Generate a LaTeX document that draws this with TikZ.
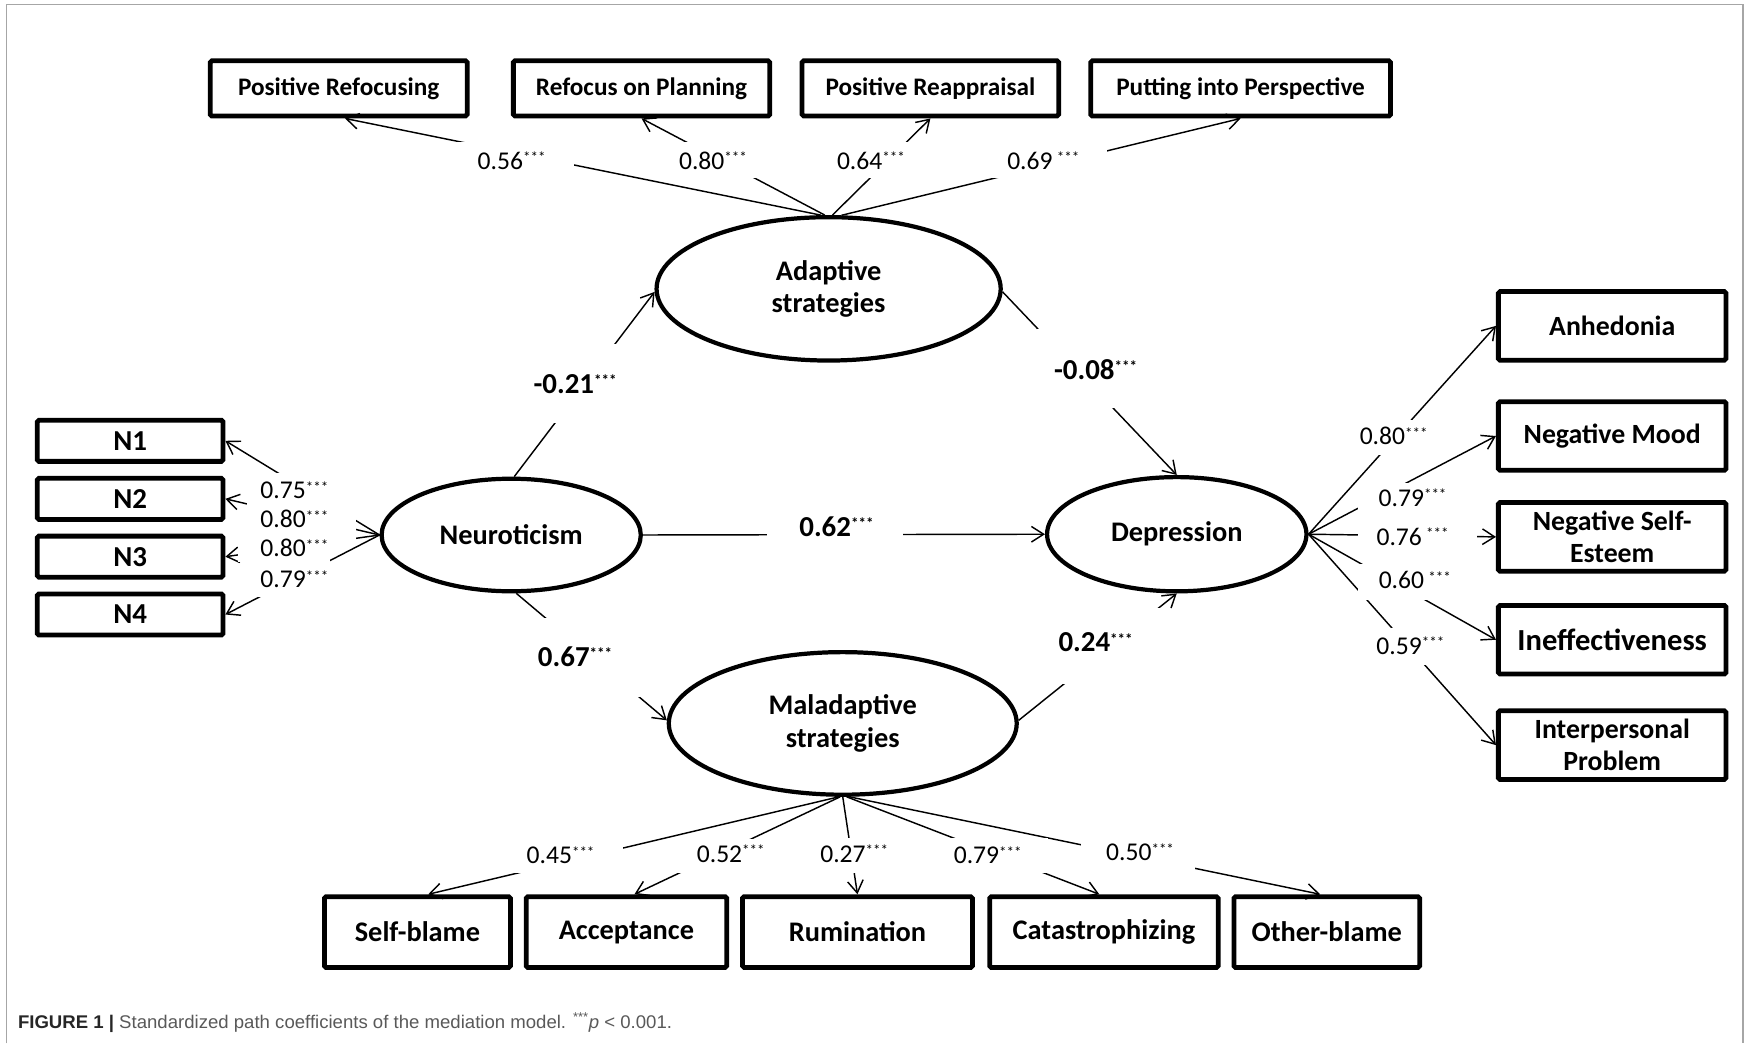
\documentclass[tikz,border=0pt]{standalone}
\usepackage{fontspec}
\usepackage{graphicx}
\setmainfont{Carlito}
\newfontfamily\capfont{Liberation Sans}
\usetikzlibrary{arrows.meta,shapes.geometric,calc}
\newcommand{\sig}{\raisebox{5.5pt}{\fontsize{13.5}{13.5}\selectfont ***}}
\newcommand{\bsig}{\raisebox{7pt}{\fontsize{13.5}{13.5}\selectfont\bfseries ***}}
\tikzset{
  ind/.style={draw, line width=4.3pt, rounded corners=1.5pt, inner sep=0pt, align=center,
    font=\bfseries\fontsize{25}{29}\selectfont},
  topind/.style={ind, minimum height=49.7pt, font=\bfseries\fontsize{22.7}{26}\selectfont},
  nind/.style={ind, minimum width=167pt, minimum height=37pt, font=\bfseries\fontsize{26}{29}\selectfont},
  rind/.style={ind, minimum width=204.7pt, minimum height=61.7pt, font=\bfseries\fontsize{25}{28.5}\selectfont},
  bind/.style={ind, minimum height=63.7pt, font=\bfseries\fontsize{25.5}{29}\selectfont},
  lat/.style={draw, ellipse, line width=3.8pt, inner sep=0pt, align=center,
    font=\bfseries\fontsize{25.5}{29}\selectfont},
  conn/.style={line width=1.3pt, -{Straight Barb[length=11pt,width=14pt]}},
  mask/.style={fill=white, draw=none, inner sep=0pt},
  lbl/.style={inner sep=0pt, anchor=base, font=\fontsize{23}{23}\selectfont},
  nlbl/.style={lbl, anchor=base west},
  blbl/.style={inner sep=0pt, anchor=base, font=\bfseries\fontsize{26}{26}\selectfont},
}
\begin{document}
\begin{tikzpicture}[x=1pt,y=-1pt]
\fill[white] (0,0) rectangle (1568,938);
\useasboundingbox (0,0) rectangle (1568,938);
\draw[black!35, line width=1.3pt] (6,938) -- (6,4) -- (1567,4) -- (1567,938);

% latent variables
\node[lat, minimum width=309.4pt, minimum height=128.9pt] (adapt) at (745,259.7) {Adaptive\\strategies};
\node[lat, minimum width=233pt, minimum height=101.2pt] (neuro) at (459.6,481) {Neuroticism};
\node[lat, minimum width=233.2pt, minimum height=102.7pt] (dep) at (1058,480.3) {Depression};
\node[lat, minimum width=312.8pt, minimum height=128.2pt] (mal) at (757.7,650.4) {Maladaptive\\strategies};

% top indicators
\node[topind, minimum width=231pt] (pr) at (304.5,79.5) {Positive Refocusing};
\node[topind, minimum width=230.5pt] (rp) at (576.8,79.5) {Refocus on Planning};
\node[topind, minimum width=230.7pt] (pra) at (836.5,79.5) {Positive Reappraisal};
\node[topind, minimum width=269.5pt] (pip) at (1115.4,79.5) {Putting into Perspective};

% neuroticism indicators
\node[nind] (n1) at (117,396.3) {N1};
\node[nind] (n2) at (117,448.5) {N2};
\node[nind] (n3) at (117,500.5) {N3};
\node[nind] (n4) at (117,552.5) {N4};

% depression indicators
\node[rind] (anh) at (1449.5,293) {Anhedonia};
\node[rind] (nm) at (1449.5,392) {Negative Mood};
\node[rind] (nse) at (1449.5,482.7) {Negative Self-\\Esteem};
\node[rind, font=\bfseries\fontsize{27.5}{30}\selectfont] (ine) at (1449.5,575.2) {Ineffectiveness};
\node[rind] (ip) at (1449.5,669.9) {Interpersonal\\Problem};

% maladaptive indicators
\node[bind, minimum width=167.2pt] (sb) at (375.3,838) {Self-blame};
\node[bind, minimum width=180.3pt] (acc) at (563.2,838) {Acceptance};
\node[bind, minimum width=206.7pt] (rum) at (770.9,838) {Rumination};
\node[bind, minimum width=205.4pt] (cat) at (992.5,838) {Catastrophizing};
\node[bind, minimum width=167pt] (ob) at (1192.9,838) {Other-blame};

% connectors
\draw[conn] (adapt.96) -- (pr.-78);
\draw[conn] (adapt.93) -- (rp.south);
\draw[conn] (adapt.87) -- (pra.south);
\draw[conn] (adapt.80) -- (pip.south);

\draw[conn] (neuro.west) -- (n1.east);
\draw[conn] (neuro.west) -- (n2.east);
\draw[conn] (neuro.west) -- (n3.east);
\draw[conn] (neuro.west) -- (n4.east);

\draw[conn] (neuro.87) -- (adapt.181);
\draw[conn] (adapt.-1) -- (dep.north);
\draw[conn] (neuro.east) -- (dep.west);
\draw[conn] (neuro.-85) -- (mal.179);
\draw[conn] (mal.1) -- (dep.south);

\draw[conn] (dep.east) -- (anh.west);
\draw[conn] (dep.east) -- (nm.west);
\draw[conn] (dep.east) -- (nse.west);
\draw[conn] (dep.east) -- (ine.west);
\draw[conn] (dep.east) -- (ip.west);

\draw[conn] (mal.-93) -- (sb.74);
\draw[conn] (mal.-92) -- (acc.78);
\draw[conn] (mal.-90) -- (rum.north);
\draw[conn] (mal.-87) -- (cat.97);
\draw[conn] (mal.-85) -- (ob.100);

% label boxes (white)
\node[mask, minimum width=106pt, minimum height=32pt] (m56) at (463,144) {};
\node[mask, minimum width=85pt, minimum height=32pt] (m80a) at (647.5,144) {};
\node[mask, minimum width=75pt, minimum height=32pt] (m64) at (787,144) {};
\node[mask, minimum width=105pt, minimum height=32pt] (m69) at (942.5,144) {};
\node[mask, minimum width=85pt, minimum height=71pt] (m21) at (522,345) {};
\node[mask, minimum width=96pt, minimum height=71pt] (m08) at (980,331.5) {};
\node[mask, minimum width=122pt, minimum height=40pt] (m62) at (751,481) {};
\node[mask, minimum width=95pt, minimum height=71pt] (m67) at (532.5,591.5) {};
\node[mask, minimum width=102pt, minimum height=68pt] (m24) at (996,581) {};
\node[mask, minimum width=70pt, minimum height=31pt] (m80b) at (1255,393.5) {};
\node[mask, minimum width=99pt, minimum height=28pt] (m79a) at (1270.5,448) {};
\node[mask, minimum width=107pt, minimum height=30pt] (m76) at (1274.5,482) {};
\node[mask, minimum width=104pt, minimum height=32pt] (m60) at (1273,523) {};
\node[mask, minimum width=70pt, minimum height=33pt] (m59) at (1270,581.5) {};
\node[mask, minimum width=100pt, minimum height=32pt] (m45) at (510,769) {};
\node[mask, minimum width=82pt, minimum height=31pt] (m52) at (644,769.5) {};
\node[mask, minimum width=70pt, minimum height=32pt] (m27) at (767,769) {};
\node[mask, minimum width=92pt, minimum height=32pt] (m79b) at (896,769) {};
\node[mask, minimum width=102pt, minimum height=32pt] (m50) at (1023,769) {};
\node[mask, minimum width=98pt, minimum height=30pt] (r1) at (271,440) {};
\node[mask, minimum width=106pt, minimum height=24pt] (r2) at (267,467) {};
\node[mask, minimum width=106pt, minimum height=10pt] (r3a) at (267,484) {};
\node[mask, minimum width=83pt, minimum height=16pt] (r3b) at (255.5,497) {};
\node[mask, minimum width=65pt, minimum height=32pt] (r4) at (264.5,521) {};

% coefficient texts
\node[lbl] (t56) at (460,152) {0.56\sig};
\node[lbl] (t80a) at (641,152) {0.80\sig};
\node[lbl] (t64) at (783,152) {0.64\sig};
\node[lbl] (t69) at (938,152) {0.69\,\sig};
\node[nlbl] (tn1) at (234,448) {0.75\sig};
\node[nlbl] (tn2) at (234,474) {0.80\sig};
\node[nlbl] (tn3) at (234,500) {0.80\sig};
\node[nlbl] (tn4) at (234,528) {0.79\sig};
\node[lbl] (t80b) at (1253,400) {0.80\sig};
\node[lbl] (t79a) at (1270,455) {0.79\sig};
\node[lbl] (t76) at (1270,490) {0.76\,\sig};
\node[lbl] (t60) at (1272,529) {0.60\,\sig};
\node[lbl] (t59) at (1268,588) {0.59\sig};
\node[lbl] (t45) at (504,776) {0.45\sig};
\node[lbl] (t52) at (657,775) {0.52\sig};
\node[lbl] (t27) at (768,775) {0.27\sig};
\node[lbl] (t79b) at (888,776) {0.79\sig};
\node[lbl] (t50) at (1025,774) {0.50\sig};
\node[blbl] (t21) at (517,354) {-0.21\bsig};
\node[blbl] (t08) at (985,341) {-0.08\bsig};
\node[blbl] (t62) at (752,482) {0.62\bsig};
\node[blbl] (t67) at (517,599) {0.67\bsig};
\node[blbl] (t24) at (985,586) {0.24\bsig};

% caption
\node[anchor=base west, inner sep=0pt] (cap) at (16,925)
  {\resizebox{588pt}{\height}{\capfont\fontsize{16.5}{18}\selectfont\color{black!85}\textbf{FIGURE 1 |} \color{black!65}Standardized path coefficients of the mediation model. \textsuperscript{***}\textit{p} < 0.001.}};
\end{tikzpicture}
\end{document}
